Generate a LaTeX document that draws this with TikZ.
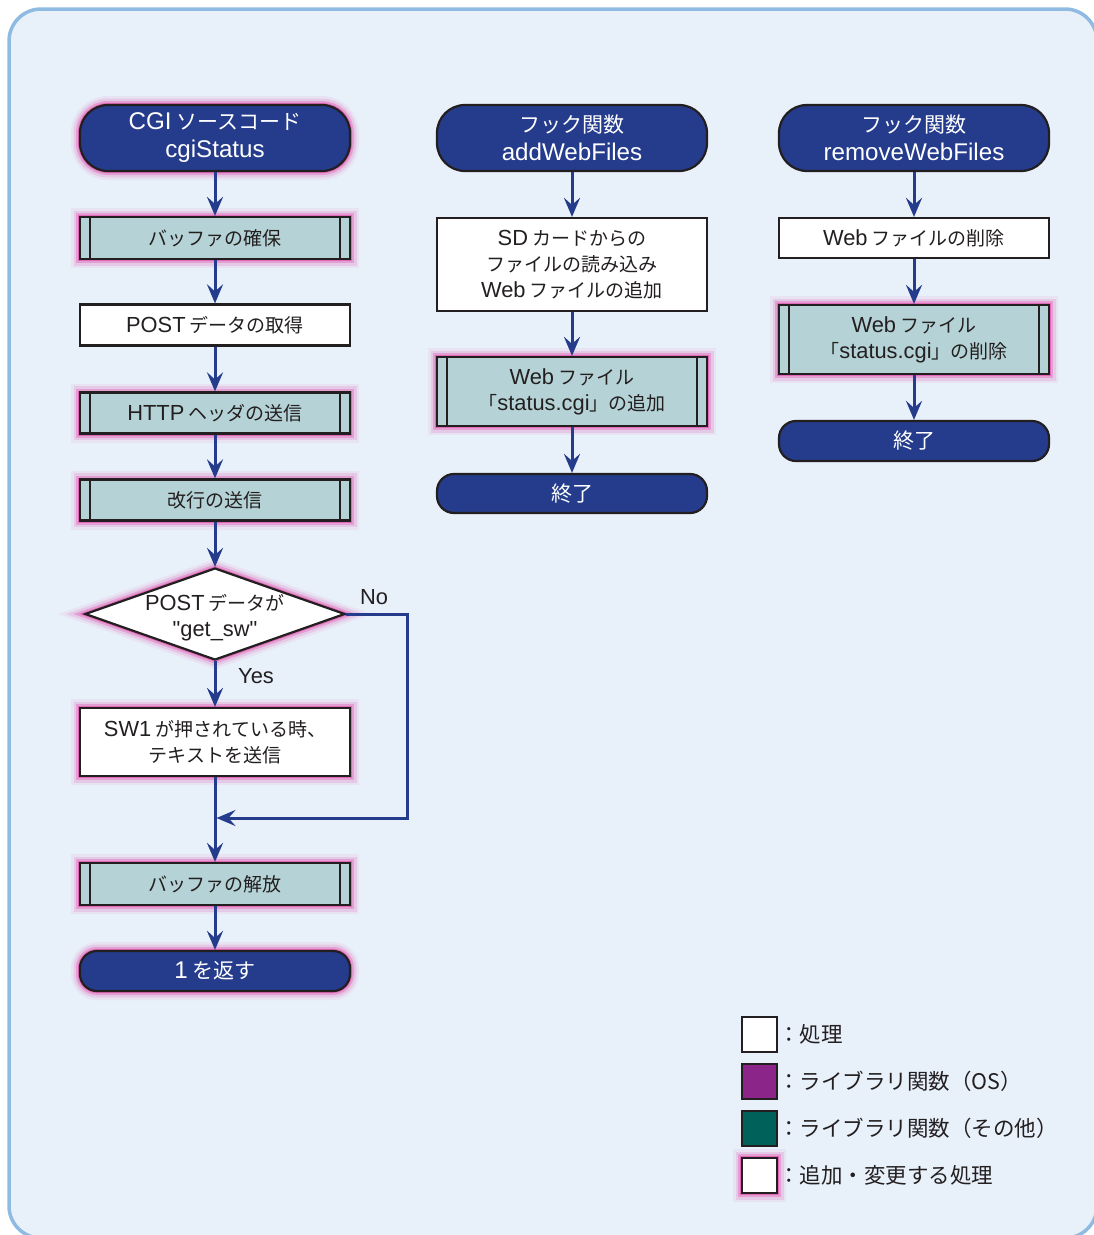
\documentclass[tikz,border=0pt]{standalone}
\usepackage{fontspec}
\setmainfont{Noto Sans CJK JP}[Ligatures=TeXOff]
\newfontfamily\latnfont{Liberation Sans}[Scale=1.15,Ligatures=TeXOff]
\newcommand\lx[1]{{\latnfont #1}}
\usetikzlibrary{shapes.geometric,arrows.meta,calc}
\definecolor{bgc}{HTML}{E8F0FA}
\definecolor{bgedge}{HTML}{8FBBE3}
\definecolor{edgec}{HTML}{231F20}
\definecolor{txtc}{HTML}{231F20}
\definecolor{termc}{HTML}{253C8C}
\definecolor{predefc}{HTML}{B5D3D6}
\definecolor{arrowc}{HTML}{253C8C}
\definecolor{glowc}{HTML}{E03CA4}
\definecolor{libos}{HTML}{8B2589}
\definecolor{libother}{HTML}{00605A}
\newcommand\bxfont{\fontsize{19}{26}\selectfont}
\newcommand\trmfont{\fontsize{21}{28}\selectfont}
\newcommand\lgfont{\fontsize{21.5}{28}\selectfont}
\tikzset{
  glow/.style={
    preaction={draw=glowc,line width=18pt,opacity=0.07},
    preaction={draw=glowc,line width=13pt,opacity=0.15},
    preaction={draw=glowc,line width=8pt,opacity=0.3},
    preaction={draw=glowc,line width=4pt,opacity=0.55}},
  box/.style={draw=edgec,line width=2.2pt,fill=white,minimum width=270pt,
    inner sep=0pt,align=center,font=\bxfont,text=txtc},
  pbox/.style={box,fill=predefc,
    path picture={\draw[edgec,line width=2.2pt]
      ([xshift=10pt]path picture bounding box.north west) --
      ([xshift=10pt]path picture bounding box.south west)
      ([xshift=-10pt]path picture bounding box.north east) --
      ([xshift=-10pt]path picture bounding box.south east);}},
  term/.style={box,fill=termc,text=white,rounded corners=28pt,font=\trmfont},
  terms/.style={box,fill=termc,text=white,rounded corners=17pt,font=\trmfont},
  flow/.style={draw=arrowc,line width=3pt,
    -{Stealth[length=19pt,width=16pt,inset=7pt]}},
  lbl/.style={font=\bxfont,text=txtc,inner sep=0pt},
  lgbox/.style={draw=edgec,line width=2.2pt,minimum width=35pt,minimum height=35pt,inner sep=0pt},
  lgtext/.style={font=\lgfont,text=txtc,inner sep=0pt,anchor=west}
}
\begin{document}
\begin{tikzpicture}[x=1pt,y=-1pt]
\useasboundingbox (0,0) rectangle (1094,1235);
\fill[white] (0,0) rectangle (1094,1235);
\draw[fill=bgc,draw=bgedge,line width=3.5pt,rounded corners=32pt] (9,9) rectangle (1097,1238);

% column 1
\node[term,glow,minimum height=66pt] (t1) at (215,138) {\lx{CGI} ソースコード\\\lx{cgiStatus}};
\node[pbox,glow,minimum height=42pt] (p1) at (215,238) {バッファの確保};
\node[box,minimum height=41pt] (b1) at (215,325) {\lx{POST} データの取得};
\node[pbox,glow,minimum height=41pt] (p2) at (215,413) {\lx{HTTP} ヘッダの送信};
\node[pbox,glow,minimum height=41pt] (p3) at (215,500) {改行の送信};
\node[diamond,draw=edgec,line width=2.2pt,fill=white,minimum width=260pt,
      minimum height=92pt,inner sep=0pt,glow] (d) at (215,614) {};
\node[lbl,align=center] (dt) at (215,618) {\lx{POST} データが\\\lx{"get\_sw"}};
\node[box,glow,minimum height=68pt] (b2) at (215,742) {\lx{SW1} が押されている時、\\テキストを送信};
\node[pbox,glow,minimum height=42pt] (p4) at (215,884) {バッファの解放};
\node[terms,glow,minimum height=40pt] (t2) at (215,971) {\lx{1} を返す};
\node[lbl] (no) at (374,597) {\lx{No}};
\node[lbl] (yes) at (256,676) {\lx{Yes}};
\coordinate (c1) at (407,614);
\coordinate (c2) at (407,818);
\coordinate (j) at (216.5,818);

% column 2
\node[term,minimum height=66pt] (t3) at (572,138) {フック関数\\\lx{addWebFiles}};
\node[box,minimum height=93pt] (b3) at (572,264.5) {\lx{SD} カードからの\\ファイルの読み込み\\\lx{Web} ファイルの追加};
\node[pbox,glow,minimum height=69pt] (p5) at (572,391.5) {\lx{Web} ファイル\\「\lx{status.cgi}」の追加};
\node[terms,minimum height=39pt] (t4) at (572,493.5) {終了};

% column 3
\node[term,minimum height=66pt] (t5) at (914,138) {フック関数\\\lx{removeWebFiles}};
\node[box,minimum height=40pt] (b4) at (914,238) {\lx{Web} ファイルの削除};
\node[pbox,glow,minimum height=69pt] (p6) at (914,339.5) {\lx{Web} ファイル\\「\lx{status.cgi}」の削除};
\node[terms,minimum height=40pt] (t6) at (914,441) {終了};

% connectors
\draw[flow] (t1) -- (p1);
\draw[flow] (p1) -- (b1);
\draw[flow] (b1) -- (p2);
\draw[flow] (p2) -- (p3);
\draw[flow] (p3) -- (d);
\draw[flow] (d) -- (b2);
\draw[flow] (b2) -- (p4);
\draw[flow] (p4) -- (t2);
\draw[flow,line join=miter] (d.east) -- (c1) -- (c2) -- (j);
\draw[flow] (t3) -- (b3);
\draw[flow] (b3) -- (p5);
\draw[flow] (p5) -- (t4);
\draw[flow] (t5) -- (b4);
\draw[flow] (b4) -- (p6);
\draw[flow] (p6) -- (t6);

% legend
\node[lgbox,fill=white] (l1) at (759.5,1034.5) {};
\node[lgbox,fill=libos] (l2) at (759.5,1081.5) {};
\node[lgbox,fill=libother] (l3) at (759.5,1128.5) {};
\node[lgbox,fill=white,glow] (l4) at (759.5,1175.5) {};
\node[lgtext] (l1t) at (778,1034.5) {：処理};
\node[lgtext] (l2t) at (778,1081.5) {：ライブラリ関数（OS）};
\node[lgtext] (l3t) at (778,1128.5) {：ライブラリ関数（その他）};
\node[lgtext] (l4t) at (778,1175.5) {：追加・変更する処理};
\end{tikzpicture}
\end{document}
